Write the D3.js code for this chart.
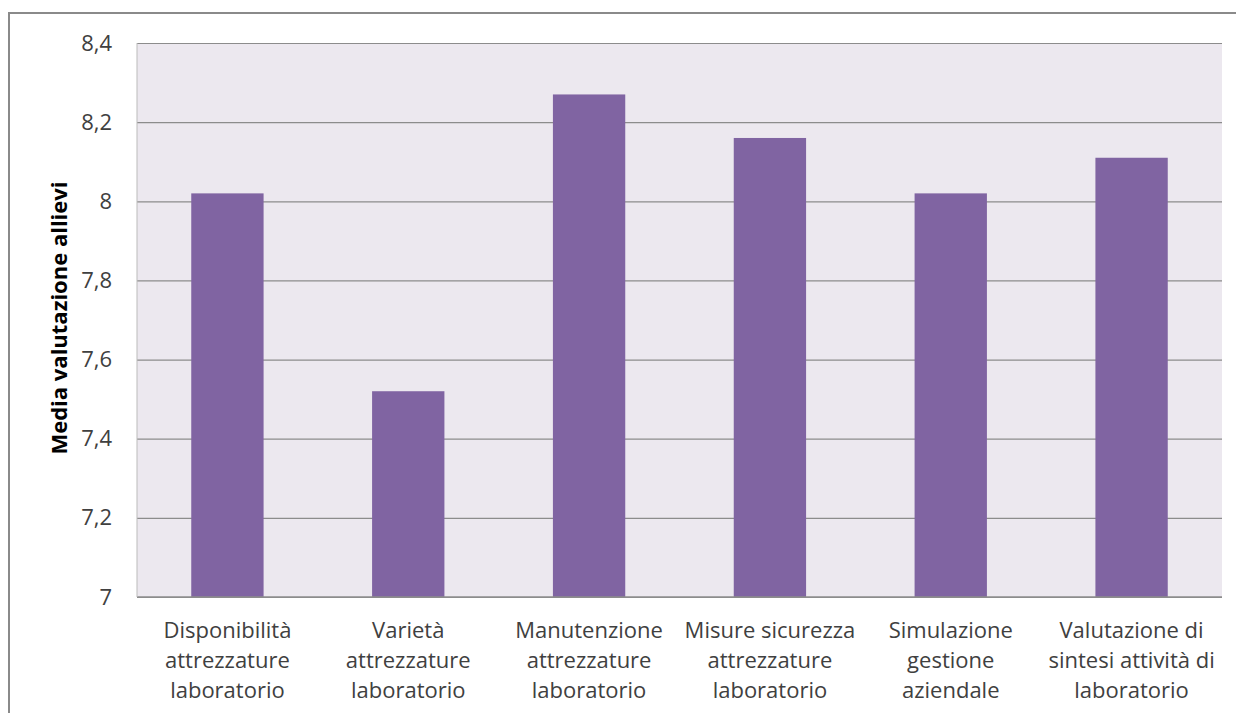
<!DOCTYPE html>
<html><head><meta charset="utf-8">
<script src="https://cdn.jsdelivr.net/npm/d3@7"></script>
<style>body{margin:0;background:#fff}svg{display:block}text{font-family:"Open Sans",sans-serif}</style>
</head><body><svg id="c" width="1236" height="713"></svg>
<script>
const categories = [
  ["Disponibilità","attrezzature","laboratorio"],
  ["Varietà","attrezzature","laboratorio"],
  ["Manutenzione","attrezzature","laboratorio"],
  ["Misure sicurezza","attrezzature","laboratorio"],
  ["Simulazione","gestione","aziendale"],
  ["Valutazione di","sintesi attività di","laboratorio"]
];
const values = [8.02, 7.52, 8.27, 8.16, 8.02, 8.11];
const yTicks = [7, 7.2, 7.4, 7.6, 7.8, 8, 8.2, 8.4];
const yTitle = "Media  valutazione allievi";

const svg = d3.select("#c");
const L=137, R=1222, T=43, B=597;
// outer border
svg.append("path").attr("d","M9,713 V13 H1236").attr("fill","none").attr("stroke","#8a8a8a").attr("stroke-width",2);
svg.append("rect").attr("x",L).attr("y",T).attr("width",R-L).attr("height",B-T).attr("fill","#ECE8EF");

const x = d3.scaleBand().domain(d3.range(categories.length)).range([L,R]).paddingInner(0.6).paddingOuter(0.3);
const y = d3.scaleLinear().domain([7,8.4]).range([B,T]);
const fmt = d => String(+d.toFixed(1)).replace(".",",");

const ga = svg.append("g").attr("transform",`translate(${L},0)`)
  .call(d3.axisLeft(y).tickValues(yTicks).tickSize(-(R-L)).tickFormat(fmt).tickPadding(25));
ga.select(".domain").remove();
ga.selectAll(".tick line").attr("stroke","#8c8c8c").attr("stroke-width",1.2);
ga.selectAll(".tick text").attr("font-size",22).attr("fill","#404040").attr("font-family","'Open Sans',sans-serif");

svg.selectAll("rect.bar").data(values).enter().append("rect").attr("class","bar")
  .attr("x",(d,i)=>x(i)).attr("width",x.bandwidth())
  .attr("y",d=>y(d)).attr("height",d=>B-y(d)).attr("fill","#8064A2");

svg.append("line").attr("x1",L).attr("x2",R).attr("y1",B).attr("y2",B).attr("stroke","#8c8c8c").attr("stroke-width",1.5);
svg.append("line").attr("x1",L).attr("x2",L).attr("y1",T).attr("y2",B).attr("stroke","#bbb").attr("stroke-width",1);

const gx = svg.append("g");
categories.forEach((lines,i)=>{
  const t = gx.append("text").attr("text-anchor","middle").attr("font-size",22).attr("fill","#404040");
  lines.forEach((s,j)=>t.append("tspan").attr("x",x(i)+x.bandwidth()/2).attr("y",638+j*30).text(s));
});

svg.append("text").attr("transform","translate(67,318) rotate(-90)").attr("text-anchor","middle")
  .attr("font-size",22).attr("font-weight","bold").attr("fill","#000").text(yTitle);
</script></body></html>
